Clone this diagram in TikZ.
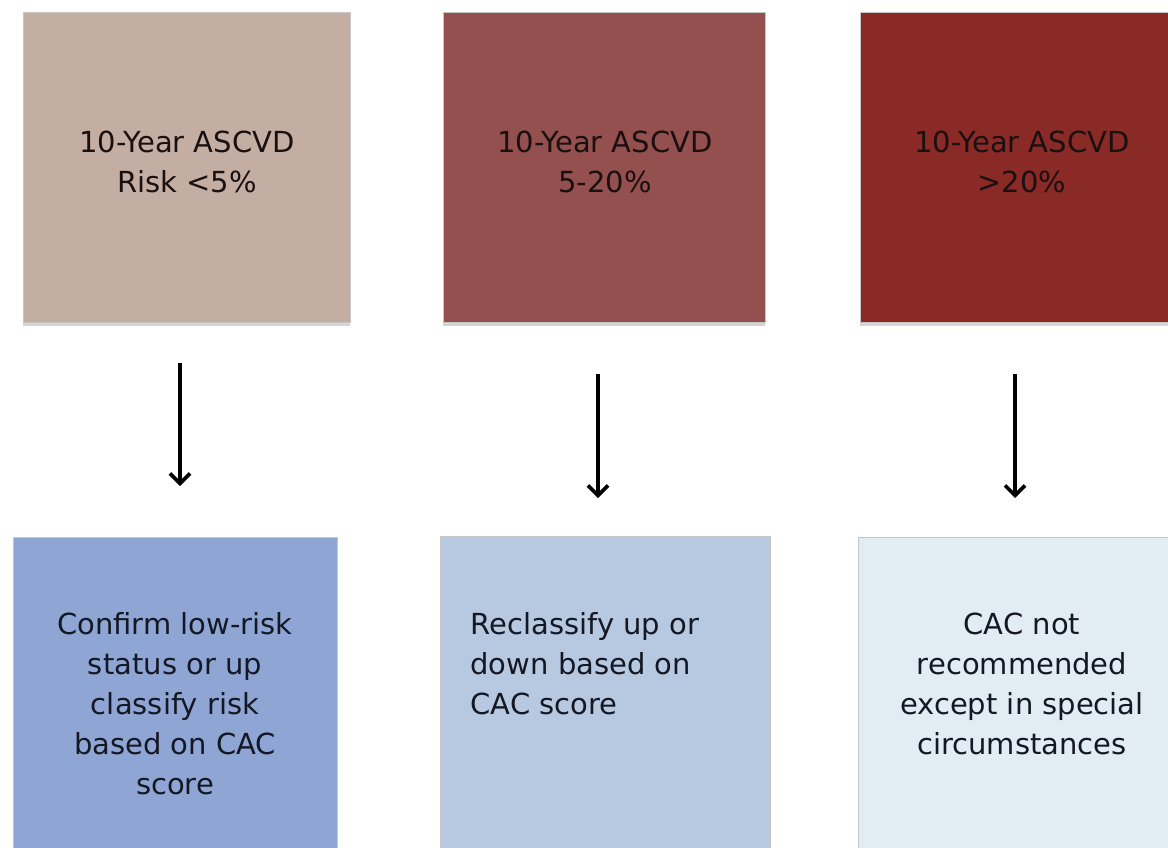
\documentclass[tikz,border=0pt]{standalone}
\usepackage{fontspec}
\setmainfont{DejaVu Sans}
\usetikzlibrary{arrows.meta,shadows}
\definecolor{topA}{HTML}{C4AEA4}
\definecolor{topB}{HTML}{93504E}
\definecolor{topC}{HTML}{8A2A26}
\definecolor{botA}{HTML}{8FA6D5}
\definecolor{botB}{HTML}{B7C9E1}
\definecolor{botC}{HTML}{E2EDF3}
\definecolor{txtTop}{HTML}{1A1010}
\definecolor{txtBot}{HTML}{141824}
\tikzset{
  panel/.style={rectangle, anchor=north west, inner sep=0pt, draw=gray!45, line width=0.8pt,
    drop shadow={shadow xshift=0pt, shadow yshift=-4pt, fill=gray!55, opacity=0.6}},
  toptext/.style={align=center, text=txtTop, font=\fontsize{29}{40}\selectfont},
  bottext/.style={text=txtBot, font=\fontsize{29}{40}\selectfont},
  arr/.style={-{Straight Barb[length=10pt,width=20pt,line width=3.6pt]}, line width=3.6pt, black}
}
\begin{document}
\begin{tikzpicture}[x=1pt,y=-1pt]
\useasboundingbox (0,0) rectangle (1168,847);
\fill[white] (0,0) rectangle (1168,847);
% top panels
\node[panel, fill=topA, minimum width=327pt, minimum height=310pt] (t1) at (23,12) {};
\node[panel, fill=topB, minimum width=322pt, minimum height=310pt] (t2) at (443,12) {};
\node[panel, fill=topC, minimum width=320pt, minimum height=310pt] (t3) at (860,12) {};
% bottom panels
\node[panel, fill=botA, minimum width=324pt, minimum height=320pt] (b1) at (13,537) {};
\node[panel, fill=botB, minimum width=330pt, minimum height=320pt] (b2) at (440,536) {};
\node[panel, fill=botC, minimum width=320pt, minimum height=320pt] (b3) at (858,537) {};
% texts
\node[toptext] (t1txt) at (187,162) {10-Year ASCVD\\Risk {<}5\%};
\node[toptext] (t2txt) at (605,162) {10-Year ASCVD\\5-20\%};
\node[toptext] (t3txt) at (1022,162) {10-Year ASCVD\\{>}20\%};
\node[bottext, align=center] (b1txt) at (175,704) {Confirm low-risk\\status or up\\classify risk\\based on CAC\\score};
\node[bottext, align=left, anchor=west] (b2txt) at (467,664) {Reclassify up or\\down based on\\CAC score};
\node[bottext, align=center] (b3txt) at (1022,684) {CAC not\\recommended\\except in special\\circumstances};
% arrow axes
\coordinate (a1) at (180,0);
\coordinate (a2) at (598,0);
\coordinate (a3) at (1015,0);
\draw[arr, shorten <=40pt, shorten >=51pt] (t1.south -| a1) -- (b1.north -| a1);
\draw[arr, shorten <=51pt, shorten >=38pt] (t2.south -| a2) -- (b2.north -| a2);
\draw[arr, shorten <=51pt, shorten >=39pt] (t3.south -| a3) -- (b3.north -| a3);
\end{tikzpicture}
\end{document}
